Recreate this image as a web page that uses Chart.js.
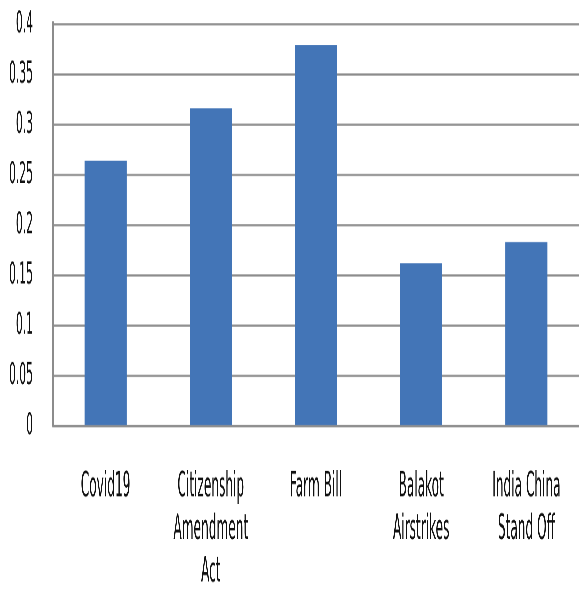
<!DOCTYPE html>
<html>
<head>
<meta charset="utf-8">
<script src="https://cdn.jsdelivr.net/npm/chart.js@4"></script>
<style>
html,body{margin:0;padding:0;background:#fff;overflow:hidden;}
#wrap{position:absolute;left:0;top:0;width:579px;height:231px;transform:scaleY(2.554);transform-origin:0 0;}
</style>
</head>
<body>
<div id="wrap"><canvas id="c" width="579" height="231"></canvas></div>
<script>
const categories = [["Covid19"], ["Citizenship", "Amendment", "Act"], ["Farm Bill"], ["Balakot", "Airstrikes"], ["India China", "Stand Off"]];
const values = [0.264, 0.316, 0.379, 0.162, 0.183];
const yTickLabels = ["0", "0.05", "0.1", "0.15", "0.2", "0.25", "0.3", "0.35", "0.4"];

const FONT = "'DejaVu Sans Condensed', 'Liberation Sans Narrow', sans-serif";
new Chart(document.getElementById('c'), {
  type: 'bar',
  data: {
    labels: categories,
    datasets: [{
      data: values,
      backgroundColor: '#4375b7',
      borderWidth: 0,
      barPercentage: 0.4,
      categoryPercentage: 1.0
    }]
  },
  options: {
    responsive: false,
    devicePixelRatio: 3,
    animation: false,
    plugins: { legend: { display: false }, tooltip: { enabled: false } },
    layout: { padding: { left: 0, right: 0, top: 0, bottom: 0 } },
    scales: {
      x: {
        grid: { display: false, drawTicks: false },
        border: { display: true, color: '#8c8c8c', width: 0.8 },
        ticks: { color: '#111', font: { family: FONT, size: 13.5, lineHeight: 1.245 }, padding: 15.5, maxRotation: 0, autoSkip: false },
        afterFit: function(s) { s.height = 64.2; }
      },
      y: {
        min: 0, max: 0.4,
        grid: { color: '#8c8c8c', lineWidth: 0.8, drawTicks: false },
        border: { display: true, color: '#8c8c8c', width: 2 },
        ticks: {
          stepSize: 0.05,
          color: '#111',
          padding: 20,
          font: { family: FONT, size: 12 },
          callback: function(v, i) { return yTickLabels[i]; }
        },
        afterFit: function(s) { s.width = 53; s.paddingTop = 9.4; s.paddingBottom = 0; }
      }
    }
  }
});
</script>
</body>
</html>
